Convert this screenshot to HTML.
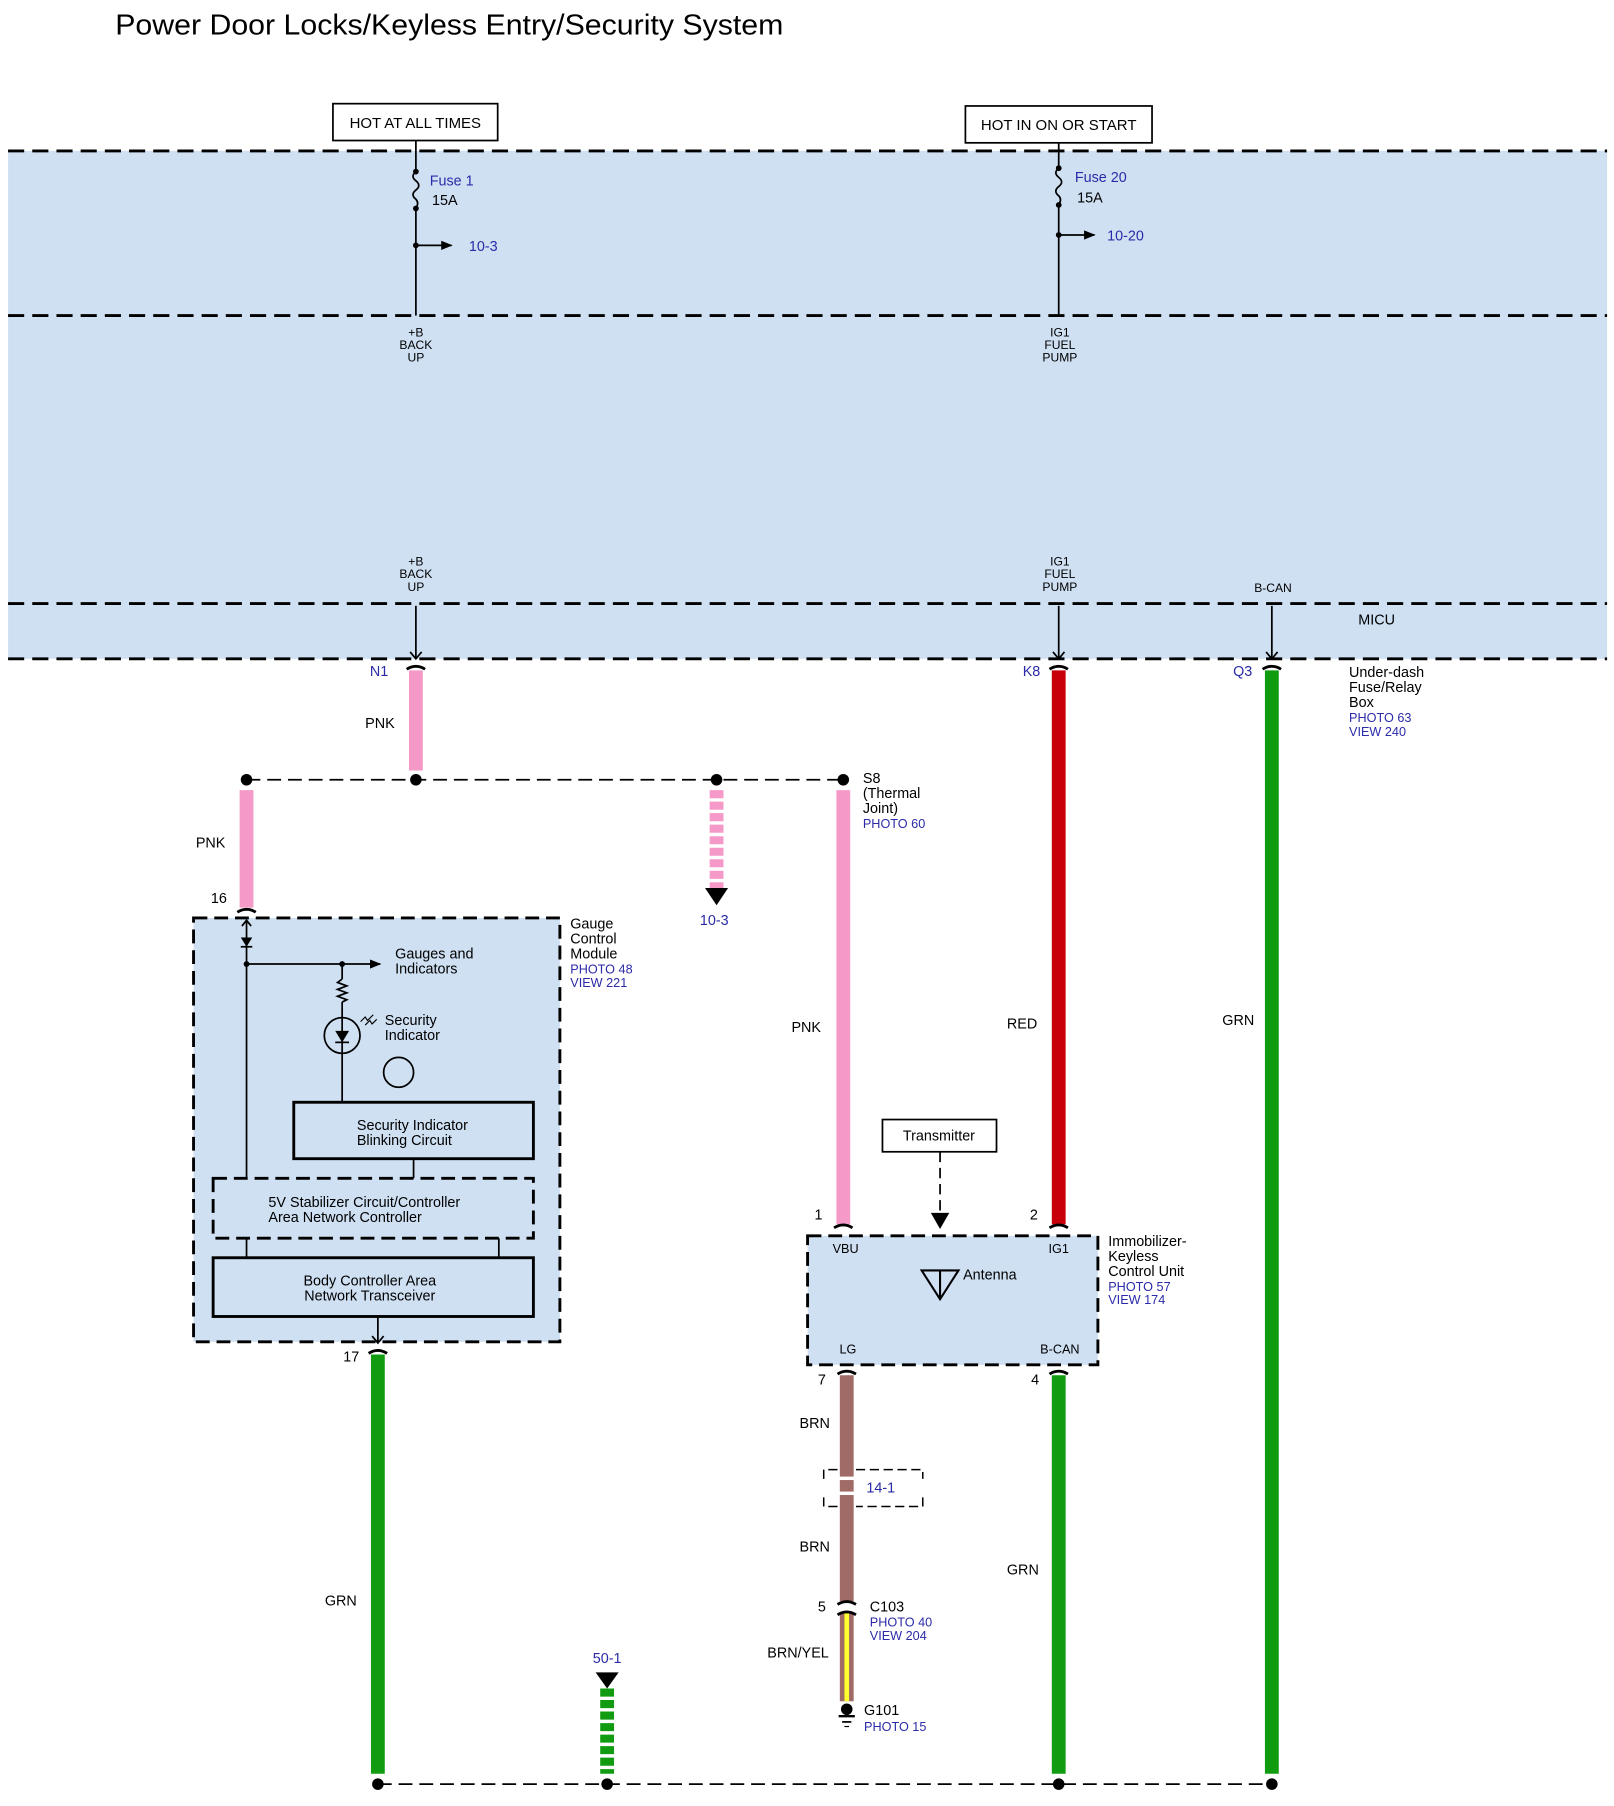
<!DOCTYPE html>
<html><head><meta charset="utf-8"><style>
html,body{margin:0;padding:0;background:#fff;}
svg{display:block;}
text{font-family:"Liberation Sans",sans-serif;}
</style></head><body>
<svg width="1614" height="1806" viewBox="0 0 1401 1568" preserveAspectRatio="none" xmlns="http://www.w3.org/2000/svg">
<defs>
<marker id="ah" markerWidth="10" markerHeight="10" refX="9" refY="5" orient="auto" markerUnits="userSpaceOnUse"><path d="M0,1 L10,5 L0,9 z" fill="#000"/></marker>
</defs>
<!-- title -->
<text x="100" y="30" font-size="25" textLength="580" lengthAdjust="spacingAndGlyphs">Power Door Locks/Keyless Entry/Security System</text>

<!-- blue band -->
<rect x="7" y="131" width="1388" height="441" fill="#cfe0f3"/>
<g stroke="#000" stroke-width="2.5" stroke-dasharray="14,7" fill="none">
<line x1="7" y1="131" x2="1395" y2="131"/>
<line x1="7" y1="274" x2="1395" y2="274"/>
<line x1="7" y1="524" x2="1395" y2="524"/>
<line x1="7" y1="572" x2="1395" y2="572"/>
</g>

<!-- hot boxes -->
<rect x="289" y="90" width="143" height="32" fill="#fff" stroke="#000" stroke-width="1.5"/>
<text x="360.5" y="111" font-size="13" text-anchor="middle">HOT AT ALL TIMES</text>
<rect x="838" y="92" width="162" height="32" fill="#fff" stroke="#000" stroke-width="1.5"/>
<text x="919" y="113" font-size="13" text-anchor="middle">HOT IN ON OR START</text>

<!-- fuse 1 -->
<g stroke="#000" stroke-width="1.5" fill="none">
<line x1="361" y1="122" x2="361" y2="149"/>
<path d="M361,149 q-5,4 0,8 q5,4 0,8 q-5,4 0,8 q3,3 0,8"/>
<line x1="361" y1="181" x2="361" y2="274"/>
<line x1="361" y1="213" x2="392" y2="213" marker-end="url(#ah)"/>
<line x1="919" y1="124" x2="919" y2="146"/>
<path d="M919,146 q-5,4 0,8 q5,4 0,8 q-5,4 0,8 q3,3 0,8"/>
<line x1="919" y1="178" x2="919" y2="274"/>
<line x1="919" y1="204" x2="950" y2="204" marker-end="url(#ah)"/>
</g>
<g fill="#000">
<circle cx="361" cy="149" r="2.5"/><circle cx="361" cy="181" r="2.5"/><circle cx="361" cy="213" r="2.5"/>
<circle cx="919" cy="146" r="2.5"/><circle cx="919" cy="178" r="2.5"/><circle cx="919" cy="204" r="2.5"/>
</g>
<text x="373" y="161" font-size="12.5" fill="#2b2ba8">Fuse 1</text>
<text x="375" y="178" font-size="12.5">15A</text>
<text x="407" y="218" font-size="12.5" fill="#2b2ba8">10-3</text>
<text x="933" y="158" font-size="12.5" fill="#2b2ba8">Fuse 20</text>
<text x="935" y="176" font-size="12.5">15A</text>
<text x="961" y="209" font-size="12.5" fill="#2b2ba8">10-20</text>

<g font-size="10.5" text-anchor="middle">
<text x="361" y="292">+B</text><text x="361" y="303">BACK</text><text x="361" y="314">UP</text>
<text x="920" y="292">IG1</text><text x="920" y="303">FUEL</text><text x="920" y="314">PUMP</text>
<text x="361" y="491">+B</text><text x="361" y="502">BACK</text><text x="361" y="513">UP</text>
<text x="920" y="491">IG1</text><text x="920" y="502">FUEL</text><text x="920" y="513">PUMP</text>
<text x="1105" y="514">B-CAN</text>
</g>
<text x="1179" y="542" font-size="12.5">MICU</text>

<!-- down arrows into connectors -->
<g stroke="#000" stroke-width="1.5" fill="none">
<line x1="361" y1="526" x2="361" y2="572"/><path d="M356,566 L361,572 L366,566"/>
<line x1="919" y1="526" x2="919" y2="572"/><path d="M914,566 L919,572 L924,566"/>
<line x1="1104" y1="526" x2="1104" y2="572"/><path d="M1099,566 L1104,572 L1109,566"/>
</g>

<!-- wires -->
<g stroke-width="12" fill="none">
<line x1="361" y1="582" x2="361" y2="669" stroke="#f59ac8"/>
<line x1="214" y1="686" x2="214" y2="788" stroke="#f59ac8"/>
<line x1="732" y1="686" x2="732" y2="1063" stroke="#f59ac8"/>
<line x1="622" y1="686" x2="622" y2="771" stroke="#f59ac8" stroke-dasharray="7,3"/>
<line x1="919" y1="582" x2="919" y2="1063" stroke="#c8000a"/>
<line x1="1104" y1="582" x2="1104" y2="1540" stroke="#119b11"/>
<line x1="328" y1="1176" x2="328" y2="1540" stroke="#119b11"/>
<line x1="919" y1="1194" x2="919" y2="1540" stroke="#119b11"/>
<line x1="527" y1="1466" x2="527" y2="1540" stroke="#119b11" stroke-dasharray="7,3"/>
<line x1="735" y1="1194" x2="735" y2="1390" stroke="#a06a66"/>
<line x1="735" y1="1400" x2="735" y2="1477" stroke="#a06a66"/>
</g>
<line x1="735" y1="1400" x2="735" y2="1477" stroke="#ffff30" stroke-width="4"/>
<!-- 14-1 gap -->
<rect x="727" y="1282" width="16" height="3" fill="#fff"/>
<rect x="727" y="1295" width="16" height="3" fill="#fff"/>
<path d="M715,1284 v-8 h12 M743,1276 h58 v8 M801,1300 v8 h-58 M727,1308 h-12 v-8" stroke="#000" stroke-width="1.3" fill="none" stroke-dasharray="8,4"/>
<text x="752" y="1296" font-size="12.5" fill="#2b2ba8">14-1</text>

<!-- connector caps -->
<g stroke="#000" stroke-width="2.5" fill="none">
<path d="M353,581 q8,-5 16,0"/>
<path d="M911,581 q8,-5 16,0"/>
<path d="M1096,581 q8,-5 16,0"/>
<path d="M206,792 q8,-5 16,0"/>
<path d="M320,1175 q8,-5 16,0"/>
<path d="M724,1066 q8,-5 16,0"/>
<path d="M911,1066 q8,-5 16,0"/>
<path d="M727,1193 q8,-5 16,0"/>
<path d="M911,1193 q8,-5 16,0"/>
<path d="M727,1393 q8,-5 16,0"/>
<path d="M727,1402 q8,-5 16,0"/>
</g>

<!-- S8 dashed bus -->
<line x1="214" y1="677" x2="732" y2="677" stroke="#000" stroke-width="1.5" stroke-dasharray="12,6"/>
<g fill="#000">
<circle cx="214" cy="677" r="5"/><circle cx="361" cy="677" r="5"/><circle cx="622" cy="677" r="5"/><circle cx="732" cy="677" r="5"/>
</g>
<path d="M612,771 L632,771 L622,786 z" fill="#000"/>
<text x="620" y="803" font-size="12.5" fill="#2b2ba8" text-anchor="middle">10-3</text>

<!-- bottom ground bus -->
<line x1="328" y1="1549" x2="1104" y2="1549" stroke="#000" stroke-width="1.5" stroke-dasharray="12,6"/>
<g fill="#000">
<circle cx="328" cy="1549" r="5"/><circle cx="527" cy="1549" r="5"/><circle cx="919" cy="1549" r="5"/><circle cx="1104" cy="1549" r="5"/>
</g>
<path d="M517,1452 L537,1452 L527,1466 z" fill="#000"/>
<text x="527" y="1444" font-size="12.5" fill="#2b2ba8" text-anchor="middle">50-1</text>

<!-- labels -->
<g font-size="12.5">
<text x="337" y="587" fill="#2b2ba8" text-anchor="end" x-="">N1</text>
<text x="903" y="587" fill="#2b2ba8" text-anchor="end">K8</text>
<text x="1087" y="587" fill="#2b2ba8" text-anchor="end">Q3</text>
<text x="1171" y="588">Under-dash</text><text x="1171" y="601">Fuse/Relay</text><text x="1171" y="614">Box</text>
<text x="1171" y="627" font-size="11" fill="#2b2ba8">PHOTO 63</text><text x="1171" y="639" font-size="11" fill="#2b2ba8">VIEW 240</text>
<text x="317" y="632">PNK</text>
<text x="170" y="736">PNK</text>
<text x="749" y="680">S8</text><text x="749" y="693">(Thermal</text><text x="749" y="706">Joint)</text>
<text x="749" y="719" font-size="11" fill="#2b2ba8">PHOTO 60</text>
<text x="687" y="896">PNK</text>
<text x="874" y="893">RED</text>
<text x="1061" y="890">GRN</text>
<text x="183" y="784">16</text>
<text x="298" y="1182">17</text>
<text x="282" y="1394">GRN</text>
<text x="707" y="1059">1</text>
<text x="894" y="1059">2</text>
<text x="710" y="1202">7</text>
<text x="895" y="1202">4</text>
<text x="694" y="1240">BRN</text>
<text x="694" y="1347">BRN</text>
<text x="874" y="1367">GRN</text>
<text x="710" y="1399">5</text>
<text x="755" y="1399">C103</text>
<text x="755" y="1412" font-size="11" fill="#2b2ba8">PHOTO 40</text>
<text x="755" y="1424" font-size="11" fill="#2b2ba8">VIEW 204</text>
<text x="666" y="1439">BRN/YEL</text>
<text x="750" y="1489">G101</text>
<text x="750" y="1503" font-size="11" fill="#2b2ba8">PHOTO 15</text>
</g>
<!-- ground -->
<circle cx="735" cy="1484" r="5" fill="#000"/>
<line x1="728" y1="1490" x2="742" y2="1490" stroke="#000" stroke-width="2"/>
<line x1="731" y1="1495" x2="739" y2="1495" stroke="#000" stroke-width="1.5"/>
<line x1="733" y1="1499" x2="737" y2="1499" stroke="#000" stroke-width="1"/>

<!-- Gauge control module -->
<rect x="168" y="797" width="318" height="368" fill="#cfe0f3" stroke="#000" stroke-width="2.5" stroke-dasharray="12,6"/>
<g font-size="12.5">
<text x="495" y="806">Gauge</text><text x="495" y="819">Control</text><text x="495" y="832">Module</text>
<text x="495" y="845" font-size="11" fill="#2b2ba8">PHOTO 48</text><text x="495" y="857" font-size="11" fill="#2b2ba8">VIEW 221</text>
<text x="343" y="832">Gauges and</text><text x="343" y="845">Indicators</text>
<text x="334" y="890">Security</text><text x="334" y="903">Indicator</text>
</g>
<g stroke="#000" stroke-width="1.5" fill="none">
<line x1="214" y1="799" x2="214" y2="1023"/>
<path d="M210,804 L214,799 L218,804"/>
<line x1="214" y1="837" x2="330" y2="837" marker-end="url(#ah)"/>
<line x1="297" y1="837" x2="297" y2="850"/>
<path d="M297,850 l-4,3 l8,3 l-8,3 l8,3 l-8,3 l8,3 l-4,2"/>
<line x1="297" y1="870" x2="297" y2="957"/>
<circle cx="297" cy="899" r="15.5"/>
<circle cx="346" cy="931" r="13"/>
<path d="M313,887 l4,-4 l2,3 l5,-5 M317,890 l4,-4 l2,3 l4,-4" stroke-width="1"/>
<line x1="291" y1="905" x2="303" y2="905"/>
<line x1="209" y1="822" x2="219" y2="822"/>
<line x1="359" y1="1006" x2="359" y2="1023"/>
<line x1="214" y1="1075" x2="214" y2="1092"/>
<line x1="433" y1="1075" x2="433" y2="1092"/>
<line x1="328" y1="1143" x2="328" y2="1166"/>
<path d="M323,1160 L328,1166 L333,1160"/>
</g>
<path d="M291,895 L303,895 L297,905 z" fill="#000"/>
<path d="M209,814 L219,814 L214,822 z" fill="#000"/>
<circle cx="214" cy="837" r="2.5" fill="#000"/><circle cx="297" cy="837" r="2.5" fill="#000"/>
<rect x="255" y="957" width="208" height="49" fill="#cfe0f3" stroke="#000" stroke-width="2.5"/>
<text x="358" y="981" font-size="12.5" text-anchor="middle">Security Indicator</text>
<text x="351" y="994" font-size="12.5" text-anchor="middle">Blinking Circuit</text>
<rect x="185" y="1023" width="278" height="52" fill="#cfe0f3" stroke="#000" stroke-width="2.5" stroke-dasharray="12,6"/>
<text x="233" y="1048" font-size="12.5">5V Stabilizer Circuit/Controller</text>
<text x="233" y="1061" font-size="12.5">Area Network Controller</text>
<rect x="185" y="1092" width="278" height="51" fill="#cfe0f3" stroke="#000" stroke-width="2.5"/>
<text x="321" y="1116" font-size="12.5" text-anchor="middle">Body Controller Area</text>
<text x="321" y="1129" font-size="12.5" text-anchor="middle">Network Transceiver</text>

<!-- Immobilizer unit -->
<rect x="766" y="972" width="99" height="28" fill="#fff" stroke="#000" stroke-width="1.5"/>
<text x="815" y="990" font-size="12.5" text-anchor="middle">Transmitter</text>
<line x1="816" y1="1000" x2="816" y2="1054" stroke="#000" stroke-width="1.5" stroke-dasharray="9,5"/>
<path d="M808,1053 L824,1053 L816,1067 z" fill="#000"/>
<rect x="701" y="1073" width="252" height="112" fill="#cfe0f3" stroke="#000" stroke-width="2.5" stroke-dasharray="12,6"/>
<g font-size="11">
<text x="734" y="1088" text-anchor="middle">VBU</text>
<text x="919" y="1088" text-anchor="middle">IG1</text>
<text x="736" y="1175" text-anchor="middle">LG</text>
<text x="920" y="1175" text-anchor="middle">B-CAN</text>
</g>
<path d="M800,1103 L832,1103 L816,1128 z M816,1103 L816,1128" stroke="#000" stroke-width="1.8" fill="none"/>
<text x="836" y="1111" font-size="12.5">Antenna</text>
<g font-size="12.5">
<text x="962" y="1082">Immobilizer-</text><text x="962" y="1095">Keyless</text><text x="962" y="1108">Control Unit</text>
<text x="962" y="1121" font-size="11" fill="#2b2ba8">PHOTO 57</text><text x="962" y="1132" font-size="11" fill="#2b2ba8">VIEW 174</text>
</g>
</svg>
</body></html>
